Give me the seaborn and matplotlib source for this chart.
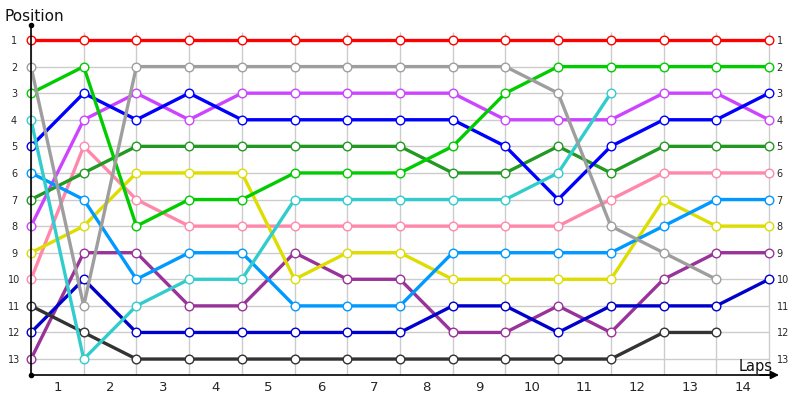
import matplotlib
matplotlib.use("Agg")
import matplotlib.pyplot as plt
import seaborn as sns
import pandas as pd

laps = list(range(0, 15))
positions = list(range(1, 14))
lap_labels = [str(i) for i in range(1, 15)]

red = [1, 1, 1, 1, 1, 1, 1, 1, 1, 1, 1, 1, 1, 1, 1]
gray = [2, 11, 2, 2, 2, 2, 2, 2, 2, 2, 3, 8, 9, 10]
green = [3, 2, 8, 7, 7, 6, 6, 6, 5, 3, 2, 2, 2, 2, 2]
cyan = [4, 13, 11, 10, 10, 7, 7, 7, 7, 7, 6, 3]
blue = [5, 3, 4, 3, 4, 4, 4, 4, 4, 5, 7, 5, 4, 4, 3]
lightblue = [6, 7, 10, 9, 9, 11, 11, 11, 9, 9, 9, 9, 8, 7, 7]
darkgreen = [7, 6, 5, 5, 5, 5, 5, 5, 6, 6, 5, 6, 5, 5, 5]
magenta = [8, 4, 3, 4, 3, 3, 3, 3, 3, 4, 4, 4, 3, 3, 4]
yellow = [9, 8, 6, 6, 6, 10, 9, 9, 10, 10, 10, 10, 7, 8, 8]
pink = [10, 5, 7, 8, 8, 8, 8, 8, 8, 8, 8, 7, 6, 6, 6]
black = [11, 12, 13, 13, 13, 13, 13, 13, 13, 13, 13, 13, 12, 12]
darkblue = [12, 10, 12, 12, 12, 12, 12, 12, 11, 11, 12, 11, 11, 11, 10]
darkpurple = [13, 9, 9, 11, 11, 9, 10, 10, 12, 12, 11, 12, 10, 9, 9]

series = {
    "red": red, "gray": gray, "green": green, "cyan": cyan, "blue": blue,
    "lightblue": lightblue, "darkgreen": darkgreen, "magenta": magenta,
    "yellow": yellow, "pink": pink, "black": black, "darkblue": darkblue,
    "darkpurple": darkpurple,
}
colors = {
    "red": "#ff0000", "gray": "#9e9e9e", "green": "#00cc00", "cyan": "#33cccc",
    "blue": "#0000ff", "lightblue": "#0099ff", "darkgreen": "#229922",
    "magenta": "#cc44ff", "yellow": "#dddd00", "pink": "#ff88aa",
    "black": "#333333", "darkblue": "#0000cc", "darkpurple": "#993399",
}

rows = []
for name, vals in series.items():
    for lap, p in zip(laps, vals):
        rows.append({"driver": name, "lap": lap, "position": p})
df = pd.DataFrame(rows)

sns.set_theme(style="white")
plt.rcParams["font.family"] = ["DejaVu Sans"]

fig = plt.figure(figsize=(8, 4), dpi=100)
rect = [31 / 800, 25 / 400, (771.6 - 31) / 800, 350 / 400]
ax = fig.add_axes(rect)

ax.set_xlim(0, 14.05)
ax.set_ylim(13.60, 0.436)

# grid
ax.vlines(laps, 0.70, 13.60, color="#cccccc", lw=1, zorder=0)
ax.hlines(positions, 0, 14, color="#cccccc", lw=1, zorder=0)

for name in reversed(list(series.keys())):
    c = colors[name]
    sub = df[df["driver"] == name]
    sns.lineplot(data=sub, x="lap", y="position", ax=ax, color=c, lw=2.4,
                 marker="o", markersize=6.2, markerfacecolor="white",
                 markeredgecolor=c, markeredgewidth=1.0, sort=False,
                 estimator=None, legend=False, clip_on=False)

ax.set_xlabel("")
ax.set_ylabel("")

ax.set_yticks(positions)
ax.set_yticklabels([str(p) for p in positions], fontsize=7)
for lbl in ax.get_yticklabels():
    lbl.set_horizontalalignment("center")
ax.tick_params(axis="y", length=0, pad=12.2)

# right-hand labels
ax2 = ax.twinx()
ax2.set_ylim(ax.get_ylim())
ax2.set_yticks(positions)
ax2.set_yticklabels([str(p) for p in positions], fontsize=7)
ax2.tick_params(axis="y", length=0, pad=3.6)
for s in ax2.spines.values():
    s.set_visible(False)

ax.set_xticks([i - 0.5 for i in range(1, 15)])
ax.set_xticklabels(lap_labels, fontsize=9.5)
ax.tick_params(axis="x", length=0, pad=4)

for s in ["top", "right"]:
    ax.spines[s].set_visible(False)
for s in ["left", "bottom"]:
    ax.spines[s].set_color("black")
    ax.spines[s].set_linewidth(1.2)

# dots at the axis ends
ax.plot([0, 0], [0.436, 13.60], "o", color="black", ms=3, clip_on=False, zorder=5)
ax.annotate("", xy=(779 / 800, 25 / 400), xytext=(760 / 800, 25 / 400),
            xycoords="figure fraction", textcoords="figure fraction",
            arrowprops=dict(arrowstyle="-|>", color="black", lw=1.2,
                            mutation_scale=12, shrinkA=0, shrinkB=0))

fig.text(5 / 800, 1 - 21 / 400, "Position", fontsize=11, va="baseline",
         ha="left", color="#111111")
fig.text(739 / 800, 1 - 371 / 400, "Laps", fontsize=10.5, va="baseline",
         ha="left", color="#111111")

fig.savefig("out.png", dpi=100)
